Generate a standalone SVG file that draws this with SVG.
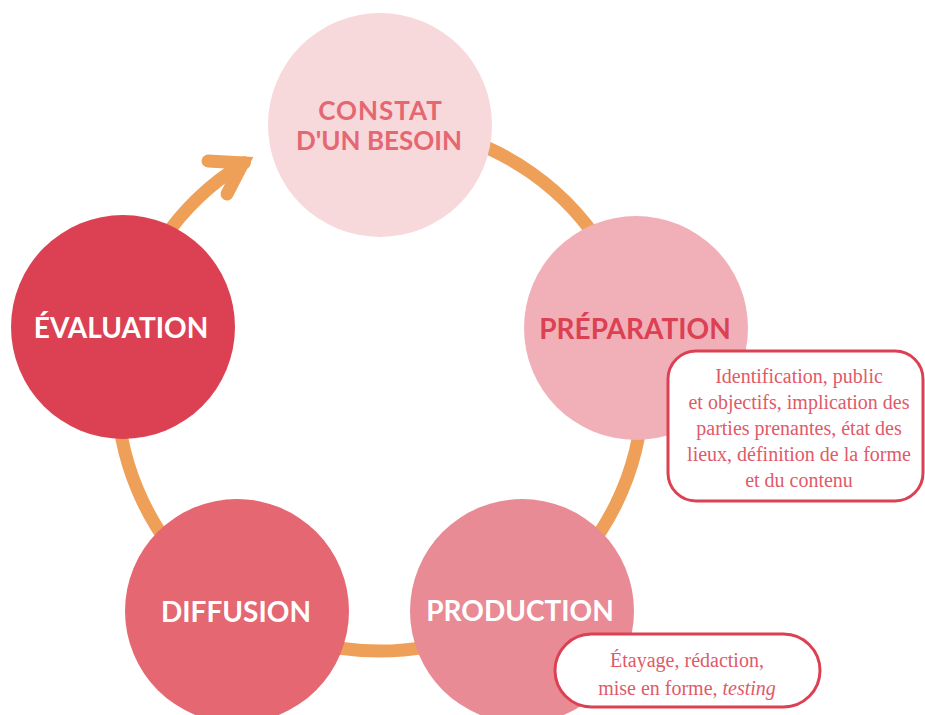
<svg xmlns="http://www.w3.org/2000/svg" width="925" height="715" viewBox="0 0 925 715">
  <style>
    .ring { fill: none; stroke: #EFA058; stroke-width: 13; stroke-linecap: round; stroke-linejoin: miter; }
    .stage { font-family: "Lato", "Liberation Sans", sans-serif; font-weight: 700; font-size: 28px; text-anchor: middle; }
    .stage-sm { font-size: 26px; }
    .note-box { fill: #FFFFFF; stroke: #DC4153; stroke-width: 3; }
    .note { font-family: "Liberation Serif", "DejaVu Serif", serif; font-size: 20px; fill: #E05A68; text-anchor: middle; }
  </style>

  <!-- cycle ring with arrowhead -->
  <g id="connectors">
    <path class="ring" d="M 425.7 129 A 263 263 0 1 1 244.4 162.7"/>
    <path class="ring" d="M 208 161 L 243 163 L 227 194"/>
  </g>

  <g id="constat">
    <circle cx="380" cy="125" r="112" fill="#F7D9DC"/>
    <text class="stage stage-sm" x="380.5" y="120" letter-spacing="1" fill="#E46772">CONSTAT</text>
    <text class="stage stage-sm" x="379" y="150" fill="#E46772">D'UN BESOIN</text>
  </g>

  <g id="preparation">
    <circle cx="636" cy="328" r="112" fill="#F1B0B8"/>
    <text class="stage" x="635" y="339" fill="#DC4153">PRÉPARATION</text>
  </g>

  <g id="production">
    <circle cx="522" cy="611" r="112" fill="#E98B95"/>
    <text class="stage" x="520" y="621" fill="#FFFFFF">PRODUCTION</text>
  </g>

  <g id="diffusion">
    <circle cx="237" cy="611" r="112" fill="#E46772"/>
    <text class="stage" x="236" y="622" fill="#FFFFFF">DIFFUSION</text>
  </g>

  <g id="evaluation">
    <circle cx="123" cy="327" r="112" fill="#DC4153"/>
    <text class="stage" x="121" y="338" fill="#FFFFFF">ÉVALUATION</text>
  </g>

  <g id="preparation-note">
    <rect class="note-box" x="668" y="351" width="255" height="150" rx="28"/>
    <text class="note" x="799" y="383">Identification, public</text>
    <text class="note" x="799" y="409">et objectifs, implication des</text>
    <text class="note" x="799" y="435">parties prenantes, état des</text>
    <text class="note" x="799" y="461">lieux, définition de la forme</text>
    <text class="note" x="799" y="487">et du contenu</text>
  </g>

  <g id="production-note">
    <rect class="note-box" x="555" y="634" width="265" height="73" rx="36.5"/>
    <text class="note" x="687" y="667">Étayage, rédaction,</text>
    <text class="note" x="687" y="695">mise en forme, <tspan font-style="italic">testing</tspan></text>
  </g>
</svg>
